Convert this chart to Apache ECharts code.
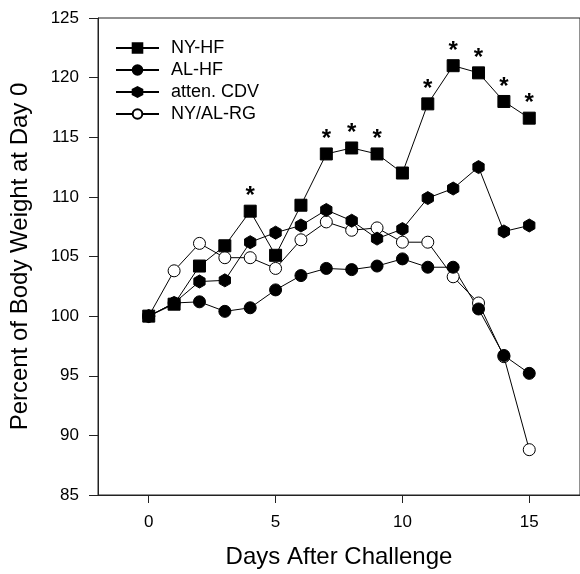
<!DOCTYPE html>
<html><head><meta charset="utf-8">
<script src="https://cdn.jsdelivr.net/npm/echarts@6/dist/echarts.min.js"></script>
<style>html,body{margin:0;padding:0;background:#fff}#c{width:580px;height:574px}</style>
</head><body><div id="c"></div>
<script>
var days = [0,1,2,3,4,5,6,7,8,9,10,11,12,13,14,15];
var nyHF   = [100,101.0,104.2,105.9,108.8,105.1,109.3,113.6,114.1,113.6,112.0,117.8,121.0,120.4,118.0,116.6];
var alHF   = [100,101.1,101.2,100.4,100.7,102.2,103.4,104.0,103.9,104.2,104.8,104.1,104.1,100.6,96.7,95.2];
var atten  = [100,101.1,102.9,103.0,106.2,107.0,107.6,108.9,108.0,106.5,107.3,109.9,110.7,112.5,107.1,107.6];
var nyalRG = [100,103.8,106.1,104.9,104.9,104.0,106.4,107.9,107.2,107.4,106.2,106.2,103.3,101.1,96.6,88.8];
var sigDays = [4,7,8,9,11,12,13,14,15];
var names = ['NY-HF','AL-HF','atten. CDV','NY/AL-RG'];
var xTicks = [0,5,10,15];

function pts(arr){ return days.map(function(d,i){ return [d, arr[i]]; }); }
var hex = 'path://M0,-10 L8.66,-5 L8.66,5 L0,10 L-8.66,5 L-8.66,-5 Z';
var font = 'Liberation Sans, Arial, sans-serif';

var chart = echarts.init(document.getElementById('c'));
var lineBase = {type:'line', lineStyle:{color:'#000', width:1}, itemStyle:{color:'#000', borderColor:'#000', borderWidth:1}, animation:false, z:3};
chart.setOption({
  backgroundColor:'#fff',
  textStyle:{fontFamily:font},
  grid:{left:97, right:-2, top:18, bottom:74, show:true, borderColor:'#222', borderWidth:1},
  legend:{
    orient:'vertical', left:110, top:34, itemWidth:43, itemHeight:12, itemGap:4,
    textStyle:{fontFamily:font, fontSize:18, color:'#000', padding:[0,0,0,7]},
    data:names
  },
  xAxis:{
    type:'value', min:-2, max:17,
    axisLine:{show:true, onZero:false, lineStyle:{color:'#222', width:1}},
    axisTick:{show:true, inside:false, length:8, lineStyle:{color:'#222'}, customValues:xTicks},
    axisLabel:{fontSize:17, color:'#000', margin:19, fontFamily:font, customValues:xTicks},
    splitLine:{show:false},
    name:'Days After Challenge', nameLocation:'middle', nameGap:50,
    nameTextStyle:{fontSize:24, color:'#000', fontFamily:font}
  },
  yAxis:{
    type:'value', min:85, max:125, interval:5,
    axisLine:{show:true, onZero:false, lineStyle:{color:'#222', width:1}},
    axisTick:{show:true, inside:false, length:9, lineStyle:{color:'#222'}},
    axisLabel:{fontSize:17, color:'#000', margin:19, fontFamily:font},
    splitLine:{show:false},
    name:'Percent of Body Weight at Day 0', nameLocation:'middle', nameGap:66,
    nameTextStyle:{fontSize:24, color:'#000', fontFamily:font}
  },
  series:[
    Object.assign({}, lineBase, {name:names[3], data:pts(nyalRG), symbol:'circle', symbolSize:12,
      itemStyle:{color:'#fff', borderColor:'#000', borderWidth:1}}),
    Object.assign({}, lineBase, {name:names[2], data:pts(atten), symbol:hex, symbolSize:13, symbolKeepAspect:true}),
    Object.assign({}, lineBase, {name:names[1], data:pts(alHF), symbol:'circle', symbolSize:12}),
    Object.assign({}, lineBase, {name:names[0], symbol:'rect', symbolSize:12,
      data: days.map(function(d,i){
        var sig = sigDays.indexOf(d) >= 0;
        return {value:[d, nyHF[i]], label:{show:sig, formatter:'*', position:'top', distance:0,
          fontSize:24, fontWeight:'bold', color:'#000', fontFamily:font, offset:[0,4]}};
      })})
  ]
});
</script></body></html>
